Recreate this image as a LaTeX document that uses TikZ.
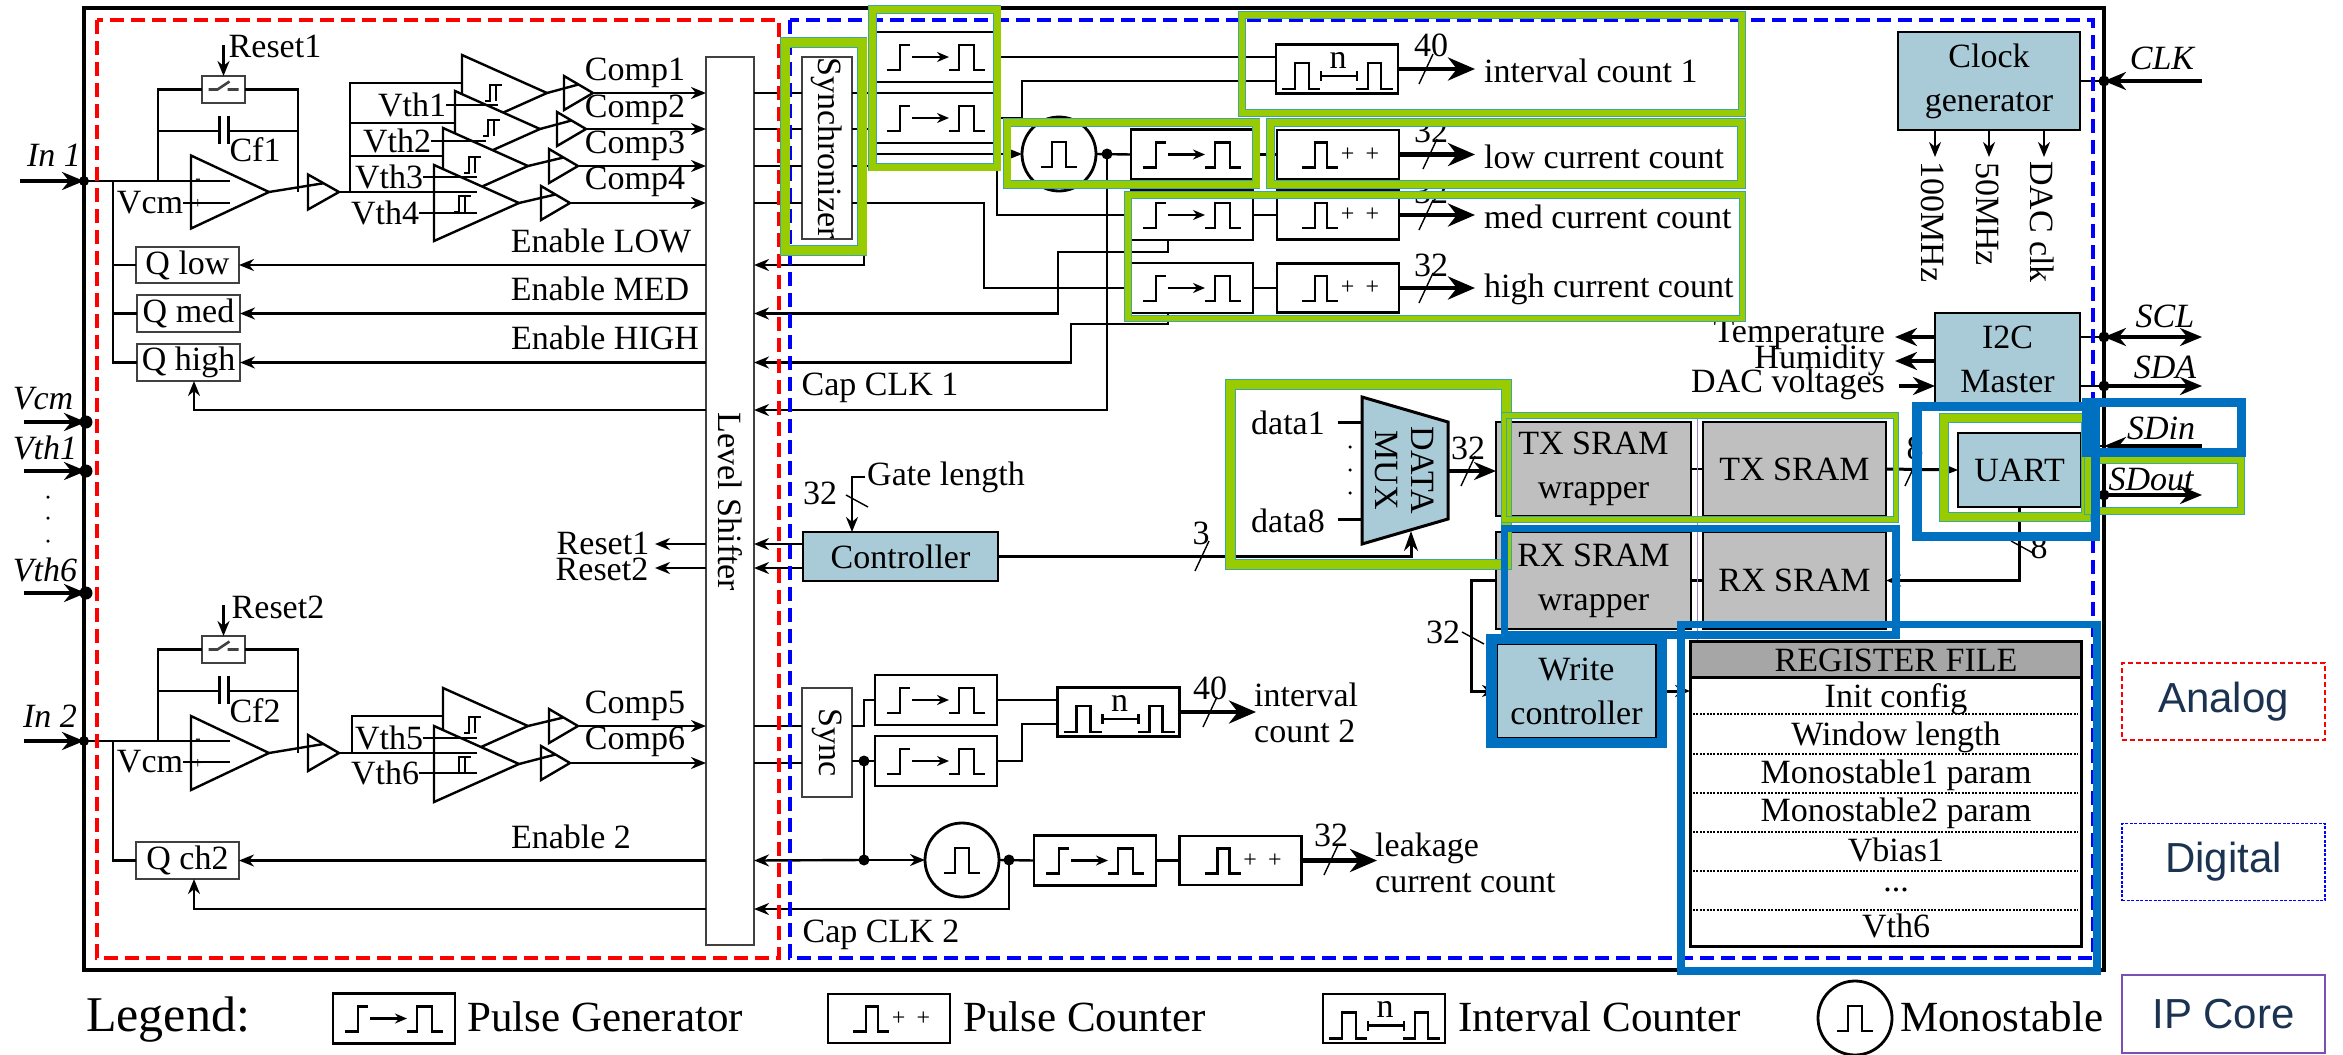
\documentclass[tikz,border=0pt]{standalone}
\usepackage{fontspec}
\setmainfont{Liberation Serif}
\newfontfamily\keyfont{Liberation Sans}
\usetikzlibrary{arrows.meta,calc,positioning,shapes.geometric}
\definecolor{ipblue}{HTML}{A9CBD8}
\definecolor{ramgrey}{HTML}{BFBFBF}
\definecolor{hdrgrey}{HTML}{A6A6A6}
\definecolor{framegreen}{HTML}{99CC00}
\definecolor{frameedge}{HTML}{3AA6A6}
\definecolor{frameblue}{HTML}{0070C0}
\definecolor{keynavy}{HTML}{1B3350}
\definecolor{keypurple}{HTML}{7B4FB5}
\newcommand{\glyphpulse}{(-18,13) -| (-7,-12) -| (7,13) -- (18,13)}
\newcommand{\plusplus}{+\hspace{11pt}+}
\tikzset{
	every node/.style={font=\fontsize{34}{44}\selectfont},
	wire/.style={line width=2.4pt},
	sig/.style={wire,-{Stealth[length=15pt,width=12pt]}},
	pin/.style={line width=3.6pt,-{Stealth[length=22pt,width=18pt]}},
	dpin/.style={line width=3.6pt,{Stealth[length=22pt,width=18pt]}-{Stealth[length=22pt,width=18pt]}},
	bus/.style={line width=4.2pt,-{Stealth[length=27pt,width=23pt]}},
	glyph/.style={line width=2.6pt,shift={(path picture bounding box.center)}},
	blk/.style={draw,line width=2.8pt,fill=white,inner sep=0pt,outer sep=0pt,align=center},
	ipblk/.style={blk,fill=ipblue},
	ramblk/.style={blk,fill=ramgrey},
	thinblk/.style={draw=black!75,line width=1.8pt,fill=white,inner sep=0pt,outer sep=0pt},
	pulsegen/.style={blk,minimum width=122pt,minimum height=50pt,path picture={
		\draw[glyph] (-49,13) -| (-36,-12) -- (-26,-12);
		\draw[glyph,-{Stealth[length=12pt,width=10pt]}] (-24,0) -- (13,0);
		\draw[glyph] (13,13) -| (23,-12) -| (38,13) -- (49,13);}},
	pulsecnt/.style={blk,minimum width=122pt,minimum height=49pt,path picture={
		\draw[glyph] (-36,13) -| (-23,-12) -| (-11,13) -- (0,13);}},
	intervalcnt/.style={blk,minimum width=122pt,minimum height=49pt,path picture={
		\draw[glyph] (-55,20) -| (-42,-6) -| (-28,20) -- (-17,20);
		\draw[glyph] (19,20) -| (31,-6) -| (44,20) -- (56,20);
		\draw[glyph] (-16,2) -- (-16,12) (-16,7) -- (20,7) (20,2) -- (20,12);}},
	monostable/.style={blk,circle,minimum size=74pt,path picture={
		\draw[glyph] \glyphpulse;}},
	swbox/.style={thinblk,minimum width=43pt,minimum height=27pt,path picture={
		\draw[glyph] (-15,0) -- (-6,0) -- (6,-8) (4,0) -- (15,0);}},
	amptri/.style={isosceles triangle,isosceles triangle stretches,shape border rotate=0,draw,line width=2.4pt,fill=white,inner sep=0pt,outer sep=0pt,anchor=apex},
	opampsym/.style={amptri,minimum width=73pt,minimum height=78pt},
	compsym/.style={amptri,minimum width=76pt,minimum height=85pt},
	bufsym/.style={amptri,minimum width=34pt,minimum height=29pt},
	jdot/.style={circle,fill=black,inner sep=0pt,minimum size=11pt},
	portdot/.style={circle,fill=black,inner sep=0pt,minimum size=13pt},
	tinydot/.style={circle,fill=black,inner sep=0pt,minimum size=3.5pt},
	signlbl/.style={inner sep=0pt,font=\fontsize{16}{16}\selectfont},
	lbl/.style={inner sep=0pt},
	cnttxt/.style={inner sep=0pt,font=\fontsize{24}{24}\selectfont},
	portlbl/.style={inner sep=0pt,font=\fontsize{34}{44}\itshape},
	tightlbl/.style={inner sep=0pt,align=left,font=\fontsize{34}{36}\selectfont},
	keylbl/.style={inner sep=0pt,anchor=west,font=\fontsize{43}{46}\selectfont},
	keybox/.style={minimum width=203pt,minimum height=77pt,inner sep=0pt,text=keynavy,font=\fontsize{42}{46}\keyfont},
	greenframe/.style={draw=frameedge,line width=0.8pt,double=framegreen,double distance=#1},
	blueframe/.style={draw=frameblue,line width=#1},
	regsep/.style={line width=2pt,dash pattern=on 2pt off 1.4pt},
	hyst/.pic={\draw[line width=2.4pt] (-8,8) -- (-3,8) -- (-3,-8) -- (9,-8) (3,-8) -- (3,8);},
	slashmark/.pic={\draw[line width=1.4pt] (-7,15) -- (7,-15);},
	backslashmark/.pic={\draw[line width=1.4pt] (-11,-6) -- (11,6);}
}
\begin{document}
\begin{tikzpicture}[x=1pt,y=-1pt]
	\useasboundingbox[fill=white] (0,0) rectangle (2343,1055);
	\draw[line width=3.6pt] (84,8) rectangle (2104,970);

	\node[portdot,minimum size=10pt] (pinone) at (84,181) {};
	\node[portdot] (pvcm) at (86,422) {};
	\node[portdot] (pvthone) at (86,471) {};
	\node[portdot] (pvthsix) at (86,593) {};
	\node[portdot,minimum size=10pt] (pintwo) at (84,741) {};
	\coordinate (inonefree) at (20,181);
	\coordinate (vcmfree) at (24,422);
	\coordinate (vthonefree) at (24,471);
	\coordinate (vthsixfree) at (24,593);
	\coordinate (intwofree) at (24,741);
	\draw[pin] (inonefree) -- (pinone.center);
	\draw[pin] (vcmfree) -- (pvcm.center);
	\draw[pin] (vthonefree) -- (pvthone.center);
	\draw[pin] (vthsixfree) -- (pvthsix.center);
	\draw[pin] (intwofree) -- (pintwo.center);
	\node[portlbl] (lbinone) at (54,155) {In 1};
	\node[portlbl] (lbvcm) at (43,399) {Vcm};
	\node[portlbl] (lbvthone) at (45,448) {Vth1};
	\node[portlbl] (lbvthsix) at (45,570) {Vth6};
	\node[portlbl] (lbintwo) at (50,716) {In 2};
	\node[tinydot] (vdota) at (48,497) {};
	\node[tinydot] (vdotb) at (48,518) {};
	\node[tinydot] (vdotc) at (48,541) {};

	\node[thinblk,minimum width=48pt,minimum height=888pt] (lsh) at (730,501) {};
	\node[lbl,rotate=-90] (lshlbl) at (730,502) {Level Shifter};

	\node[opampsym] (opa) at (269,192) {};
	\node[bufsym,minimum height=31pt,minimum width=35pt] (bufa) at (339,192) {};
	\node[swbox] (swa) at (223.5,89.5) {};
	\node[lbl] (lbrsa) at (275,46) {Reset1};
	\node[lbl] (lbcfa) at (255,150) {Cf1};
	\node[lbl] (lbvcma) at (150,203) {Vcm};
	\node[signlbl] (oma) at (198,181) {-};
	\node[signlbl] (opla) at (198,204) {+};
	\coordinate (rsafree) at (223.5,45);
	\coordinate (tapa) at (113,181);
	\coordinate (fba) at (158,181);
	\coordinate (outa) at (298,192);
	\coordinate (cfal) at (219,131);
	\coordinate (cfar) at (228,131);
	\draw[sig] (rsafree) -- (swa.north);
	\draw[wire] (pinone.center) -- (pinone -| opa.left side);
	\draw[wire] (lbvcma.east) -- (lbvcma.east -| opa.left side);
	\draw[wire] (fba) |- (swa.west);
	\draw[wire] (swa.east) -| (outa);
	\draw[wire] (fba |- cfal) -- (cfal);
	\draw[wire] (cfar) -- (outa |- cfar);
	\draw[line width=3pt] ($(cfal)+(0,-15)$) -- ($(cfal)+(0,13)$);
	\draw[line width=3pt] ($(cfar)+(0,-15)$) -- ($(cfar)+(0,13)$);
	\draw[wire] (opa.apex) -- (bufa.left side);

	\node[compsym] (cmpa) at (547,93) {};
	\pic at (493,93) {hyst};
	\node[compsym] (cmpb) at (540,129) {};
	\pic at (491,128) {hyst};
	\node[compsym] (cmpc) at (528,166) {};
	\pic at (472,165) {hyst};
	\node[compsym] (cmpd) at (519,203) {};
	\pic at (462,204) {hyst};
	\coordinate (vbra) at (350,192);
	\coordinate (cmpain) at (462,83);
	\coordinate (cmpbin) at (455,123);
	\coordinate (cmpcin) at (443,156);
	\draw[wire] (bufa.apex) -- (bufa.apex -| cmpd.left side);
	\draw[wire] (vbra) |- (cmpain);
	\draw[wire] (vbra |- cmpbin) -- (cmpbin);
	\draw[wire] (vbra |- cmpcin) -- (cmpcin);
	\node[lbl] (vthlba) at (412,105) {Vth1};
	\node[lbl] (vthlbb) at (397,141) {Vth2};
	\node[lbl] (vthlbc) at (389,177) {Vth3};
	\node[lbl] (vthlbd) at (385,213) {Vth4};
	\draw[wire] (vthlba.east) -- (vthlba.east -| cmpb.left side);
	\draw[wire] (vthlbb.east) -- (vthlbb.east -| cmpc.left side);
	\draw[wire] (vthlbc.east) -- (vthlbc.east -| cmpd.left side);
	\draw[wire] (vthlbd.east) -- (vthlbd.east -| cmpd.left side);
	\node[bufsym] (bufb) at (593,93) {};
	\node[bufsym] (bufc) at (586,129) {};
	\node[bufsym] (bufd) at (578,166) {};
	\node[bufsym] (bufe) at (570,203) {};
	\draw[wire] (cmpa.apex) -- (bufb.left side);
	\draw[wire] (cmpb.apex) -- (bufc.left side);
	\draw[wire] (cmpc.apex) -- (bufd.left side);
	\draw[wire] (cmpd.apex) -- (bufe.left side);
	\draw[sig] (bufb.apex) -- (bufb.apex -| lsh.west);
	\draw[sig] (bufc.apex) -- (bufc.apex -| lsh.west);
	\draw[sig] (bufd.apex) -- (bufd.apex -| lsh.west);
	\draw[sig] (bufe.apex) -- (bufe.apex -| lsh.west);
	\node[lbl] (lbcompa) at (635,73) {Comp1};
	\node[lbl] (lbcompb) at (635,110) {Comp2};
	\node[lbl] (lbcompc) at (635,146) {Comp3};
	\node[lbl] (lbcompd) at (635,182) {Comp4};

	\node[thinblk,minimum width=103pt,minimum height=36pt] (qlow) at (187.5,265) {Q low};
	\node[thinblk,minimum width=103pt,minimum height=37pt] (qmed) at (188.5,313.5) {Q med};
	\node[thinblk,minimum width=103pt,minimum height=37pt] (qhigh) at (188.5,362.5) {Q high};
	\draw[wire] (tapa) |- (qhigh.west);
	\draw[wire] (tapa |- qlow.west) -- (qlow.west);
	\draw[wire] (tapa |- qmed.west) -- (qmed.west);
	\draw[sig] (qlow.east -| lsh.west) -- (qlow.east);
	\draw[sig] (qmed.east -| lsh.west) -- (qmed.east);
	\draw[sig] (qhigh.east -| lsh.west) -- (qhigh.east);
	\coordinate (capa) at (194,410);
	\draw[sig] (capa -| lsh.west) -- (capa) -- (capa |- qhigh.south);
	\node[lbl] (lbenlow) at (601,241) {Enable LOW};
	\node[lbl] (lbenmed) at (600,289) {Enable MED};
	\node[lbl] (lbenhigh) at (605,338) {Enable HIGH};
	\node[lbl] (lbrstone) at (603,543) {Reset1};
	\node[lbl] (lbrsttwo) at (602,569) {Reset2};
	\coordinate (rsta) at (655,544);
	\coordinate (rstb) at (655,568);
	\draw[sig] (rsta -| lsh.west) -- (rsta);
	\draw[sig] (rstb -| lsh.west) -- (rstb);

	\node[opampsym,minimum width=74pt] (opb) at (269,753) {};
	\node[bufsym,minimum height=31pt,minimum width=36pt] (bufk) at (339,753) {};
	\node[swbox] (swb) at (223.5,649.5) {};
	\node[lbl] (lbrsb) at (278,607) {Reset2};
	\node[lbl] (lbcfb) at (255,711) {Cf2};
	\node[lbl] (lbvcmb) at (150,762) {Vcm};
	\node[signlbl] (omb) at (198,741) {-};
	\node[signlbl] (oplb) at (198,764) {+};
	\coordinate (rsbfree) at (223.5,605);
	\coordinate (tapb) at (113,741);
	\coordinate (fbb) at (158,741);
	\coordinate (outb) at (298,753);
	\coordinate (cfbl) at (219,691);
	\coordinate (cfbr) at (228,691);
	\draw[sig] (rsbfree) -- (swb.north);
	\draw[wire] (pintwo.center) -- (pintwo -| opb.left side);
	\draw[wire] (lbvcmb.east) -- (lbvcmb.east -| opb.left side);
	\draw[wire] (fbb) |- (swb.west);
	\draw[wire] (swb.east) -| (outb);
	\draw[wire] (fbb |- cfbl) -- (cfbl);
	\draw[wire] (cfbr) -- (outb |- cfbr);
	\draw[line width=3pt] ($(cfbl)+(0,-15)$) -- ($(cfbl)+(0,13)$);
	\draw[line width=3pt] ($(cfbr)+(0,-15)$) -- ($(cfbr)+(0,13)$);
	\draw[wire] (opb.apex) -- (bufk.left side);

	\node[compsym] (cmpe) at (528,726) {};
	\pic at (472,725) {hyst};
	\node[compsym] (cmpf) at (519,764) {};
	\pic at (462,765) {hyst};
	\coordinate (vbrb) at (352,753);
	\coordinate (cmpein) at (443,716);
	\draw[wire] (bufk.apex) -- (bufk.apex -| cmpf.left side);
	\draw[wire] (vbrb) |- (cmpein);
	\node[lbl] (vthlbe) at (389,738) {Vth5};
	\node[lbl] (vthlbf) at (385,773) {Vth6};
	\draw[wire] (vthlbe.east) -- (vthlbe.east -| cmpf.left side);
	\draw[wire] (vthlbf.east) -- (vthlbf.east -| cmpf.left side);
	\node[bufsym] (bufm) at (578,726) {};
	\node[bufsym] (bufn) at (570,763) {};
	\draw[wire] (cmpe.apex) -- (bufm.left side);
	\draw[wire] (cmpf.apex) -- (bufn.left side);
	\draw[sig] (bufm.apex) -- (bufm.apex -| lsh.west);
	\draw[sig] (bufn.apex) -- (bufn.apex -| lsh.west);
	\node[lbl] (lbcompe) at (635,706) {Comp5};
	\node[lbl] (lbcompf) at (635,742) {Comp6};

	\node[thinblk,minimum width=103pt,minimum height=37pt] (qchb) at (187.5,860.5) {Q ch2};
	\draw[wire] (tapb) |- (qchb.west);
	\draw[sig] (qchb.east -| lsh.west) -- (qchb.east);
	\coordinate (capb) at (194,909);
	\draw[sig] (capb -| lsh.west) -- (capb) -- (capb |- qchb.south);
	\node[lbl] (lbentwo) at (571,837) {Enable 2};

	\node[thinblk,minimum width=50pt,minimum height=182pt] (syn) at (827,148) {};
	\node[lbl,rotate=-90] (synlbl) at (827,148) {Synchronizer};
	\draw[wire] (bufb.apex -| lsh.east) -- (bufb.apex -| syn.west);
	\draw[wire] (bufc.apex -| lsh.east) -- (bufc.apex -| syn.west);
	\draw[wire] (bufd.apex -| lsh.east) -- (bufd.apex -| syn.west);
	\draw[wire] (bufe.apex -| lsh.east) -- (bufe.apex -| syn.west);

	\node[pulsegen] (pgone) at (936,57) {};
	\node[pulsegen] (pgtwo) at (936,118) {};
	\node[intervalcnt] (ivone) at (1337,69) {};
	\node[lbl] (ivonetxt) at ($(ivone.center)+(1,-9)$) {n};
	\node[monostable] (mono) at (1059,154) {};
	\node[jdot] (dmono) at (1107,154) {};
	\node[pulsegen] (pglow) at (1192,154.5) {};
	\node[pulsecnt] (pclow) at (1338,154.5) {};
	\node[cnttxt] (pclowtxt) at ($(pclow.center)+(22,0)$) {\plusplus};
	\node[pulsegen] (pgmed) at (1192,215) {};
	\node[pulsecnt] (pcmed) at (1338,215) {};
	\node[cnttxt] (pcmedtxt) at ($(pcmed.center)+(22,0)$) {\plusplus};
	\node[pulsegen] (pghigh) at (1192,288) {};
	\node[pulsecnt] (pchigh) at (1338,288) {};
	\node[cnttxt] (pchightxt) at ($(pchigh.center)+(22,0)$) {\plusplus};
	\coordinate (busx) at (1475,0);
	\coordinate (syna) at (870,93);
	\coordinate (synb) at (870,129);
	\coordinate (sync) at (870,154);
	\coordinate (medj) at (997,154);
	\coordinate (hibend) at (984,203);
	\coordinate (pgtwobend) at (1022,118);
	\coordinate (ivonein) at (1276,81);
	\draw[wire] (bufb.apex -| syn.east) -- (syna) |- (pgone.west);
	\draw[wire] (bufc.apex -| syn.east) -- (synb) |- (pgtwo.west);
	\draw[wire] (bufd.apex -| syn.east) -- (bufd.apex -| sync) -- (sync);
	\draw[sig] (sync) -- (mono.west);
	\draw[wire] (medj) |- (pgmed.west);
	\draw[wire] (bufe.apex -| syn.east) -- (hibend) |- (pghigh.west);
	\draw[wire] (pgone.east) -- (pgone.east -| ivone.west);
	\draw[wire] (pgtwo.east) -- (pgtwobend) |- (ivonein);
	\draw[wire] (mono.east) -- (pglow.west);
	\draw[wire] (pglow.east) -- (pclow.west);
	\draw[wire] (pgmed.east) -- (pcmed.west);
	\draw[wire] (pghigh.east) -- (pchigh.west);
	\draw[bus] (ivone.east) -- (ivone.east -| busx);
	\draw[bus] (pclow.east) -- (pclow.east -| busx);
	\draw[bus] (pcmed.east) -- (pcmed.east -| busx);
	\draw[bus] (pchigh.east) -- (pchigh.east -| busx);
	\pic at (1426,69) {slashmark};
	\pic at (1430,154) {slashmark};
	\pic at (1426,215) {slashmark};
	\pic at (1426,288) {slashmark};
	\node[lbl] (wdiva) at (1431,45) {40};
	\node[lbl] (wdivb) at (1431,131) {32};
	\node[lbl] (wdivc) at (1431,192) {32};
	\node[lbl] (wdivd) at (1431,265) {32};
	\node[lbl,anchor=west] (lbivone) at (1484,71) {interval count 1};
	\node[lbl,anchor=west] (lblow) at (1484,157) {low current count};
	\node[lbl,anchor=west] (lbmed) at (1484,217) {med current count};
	\node[lbl,anchor=west] (lbhigh) at (1484,289) {high current count};

	\coordinate (enlowtop) at (864,240);
	\coordinate (medtap) at (1168,239);
	\coordinate (medbend) at (1058,252);
	\coordinate (hightap) at (1168,312);
	\coordinate (highbend) at (1071,324);
	\draw[sig] (enlowtop) |- (qlow.east -| lsh.east);
	\draw[sig] (medtap) |- (medbend) |- (qmed.east -| lsh.east);
	\draw[sig] (hightap) |- (highbend) |- (qhigh.east -| lsh.east);
	\draw[sig] (dmono.center) |- (capa -| lsh.east);
	\node[lbl] (lbcapa) at (880,388) {Cap CLK 1};

	\node[ipblk,minimum width=195pt,minimum height=49pt] (ctrl) at (900.5,556.5) {Controller};
	\draw[sig] (ctrl.west |- rsta) -- (rsta -| lsh.east);
	\draw[sig] (ctrl.west |- rstb) -- (rstb -| lsh.east);
	\coordinate (gatefree) at (865,477);
	\coordinate (gatex) at (852,532);
	\draw[sig] (gatefree) -| (gatex);
	\pic at (857,501) {backslashmark};
	\node[lbl,anchor=west] (lbgate) at (867,477) {Gate length};
	\node[lbl] (wdivg) at (820,493) {32};

	\draw[line width=3pt,fill=ipblue] (1362,397) -- (1448,422) -- (1448,519) -- (1362,544) -- cycle;
	\node[lbl,rotate=-90,align=center,font=\fontsize{34}{36}\selectfont] (muxlbl) at (1405,470) {DATA\\MUX};
	\coordinate (muxa) at (1362,422);
	\coordinate (muxh) at (1362,519);
	\coordinate (muxout) at (1448,471);
	\coordinate (muxin) at (1411,531);
	\draw[line width=3pt] (muxa) -- +(-24,0);
	\draw[line width=3pt] (muxh) -- +(-24,0);
	\node[tinydot] (mdota) at (1350,447) {};
	\node[tinydot] (mdotb) at (1350,470) {};
	\node[tinydot] (mdotc) at (1350,493) {};
	\node[lbl] (lbdataa) at (1288,423) {data1};
	\node[lbl] (lbdatah) at (1288,521) {data8};
	\draw[line width=3pt,-{Stealth[length=20pt,width=14pt]}] (ctrl.east) -| (muxin);
	\pic at (1202,556) {slashmark};
	\node[lbl] (wdivs) at (1201,533) {3};

	\node[ramblk,minimum width=195pt,minimum height=94pt] (txw) at (1593.5,469) {TX SRAM\\wrapper};
	\node[ramblk,minimum width=183pt,minimum height=94pt] (txr) at (1794.5,469) {TX SRAM};
	\node[ramblk,minimum width=195pt,minimum height=97pt] (rxw) at (1593.5,580.5) {RX SRAM\\wrapper};
	\node[ramblk,minimum width=183pt,minimum height=97pt] (rxr) at (1794.5,580.5) {RX SRAM};
	\node[ipblk,minimum width=123pt,minimum height=74pt] (uart) at (2019.5,470) {UART};
	\node[ipblk,minimum width=159pt,minimum height=94pt] (wrc) at (1576.5,691) {Write\\controller};
	\draw[pin] (muxout) -- (txw.west |- muxout);
	\pic at (1468,471) {slashmark};
	\node[lbl] (wdivm) at (1468,448) {32};
	\draw[wire] (txw.east) -- (txr.west);
	\draw[wire] (rxw.east) -- (rxr.west);
	\draw[sig,line width=3pt] (txr.east) -- (uart.west);
	\pic at (1912,471) {slashmark};
	\node[lbl] (wdivt) at (1915,448) {8};
	\draw[sig,line width=3pt] (uart.south) |- (rxr.east);
	\pic at (2022,547) {backslashmark};
	\node[lbl] (wdivr) at (2039,547) {8};
	\coordinate (rxbend) at (1471,580.5);
	\draw[sig,line width=3pt] (rxw.west) -- (rxbend) |- (wrc.west);
	\pic at (1473,638) {backslashmark};
	\node[lbl] (wdivw) at (1443,632) {32};

	\node[blk,minimum width=391pt,minimum height=305pt,line width=3pt] (regfile) at (1885.5,793.5) {};
	\node[blk,minimum width=391pt,minimum height=36pt,line width=3pt,fill=hdrgrey] (reghdr) at (1885.5,659) {};
	\node[lbl] (reglbl) at (1896,660) {REGISTER FILE};
	\node[lbl] (rowa) at (1896,699) {Init config};
	\node[lbl] (rowb) at (1896,737) {Window length};
	\node[lbl] (rowc) at (1896,775) {Monostable1 param};
	\node[lbl] (rowd) at (1896,813) {Monostable2 param};
	\node[lbl] (rowe) at (1896,850) {Vbias1};
	\node[lbl] (rowf) at (1896,890) {...};
	\node[lbl] (rowg) at (1896,926) {Vth6};
	\draw[regsep] (1693,714) -- (2078,714);
	\draw[regsep] (1693,754) -- (2078,754);
	\draw[regsep] (1693,793) -- (2078,793);
	\draw[regsep] (1693,832) -- (2078,832);
	\draw[regsep] (1693,871) -- (2078,871);
	\draw[regsep] (1693,910) -- (2078,910);
	\draw[sig,line width=3pt] (wrc.east) -- (wrc.east -| regfile.west);

	\node[ipblk,minimum width=182pt,minimum height=98pt] (clkgen) at (1989,81) {Clock\\generator};
	\coordinate (clka) at (1935,157);
	\coordinate (clkb) at (1989,157);
	\coordinate (clkc) at (2044,157);
	\draw[sig] (clka |- clkgen.south) -- (clka);
	\draw[sig] (clkb |- clkgen.south) -- (clkb);
	\draw[sig] (clkc |- clkgen.south) -- (clkc);
	\node[lbl,rotate=-90] (lbclka) at (1933,222) {100MHz};
	\node[lbl,rotate=-90] (lbclkb) at (1988,214) {50MHz};
	\node[lbl,rotate=-90] (lbclkc) at (2042,222) {DAC clk};
	\node[jdot] (dclk) at (2104,81) {};
	\coordinate (clkfree) at (2202,81);
	\draw[pin] (clkfree) -- (dclk.center);
	\draw[wire] (dclk.center) -- (clkgen.east);
	\node[portlbl] (lbclk) at (2162,58) {CLK};

	\node[ipblk,minimum width=145pt,minimum height=92pt] (itc) at (2007.5,359) {I2C\\Master};
	\node[jdot] (dscl) at (2104,337) {};
	\node[jdot] (dsda) at (2104,386) {};
	\coordinate (sclfree) at (2202,337);
	\coordinate (sdafree) at (2202,386);
	\draw[dpin] (dscl.center) -- (sclfree);
	\draw[pin] (dsda.center) -- (sdafree);
	\draw[wire] (dscl.center) -- (dscl -| itc.east);
	\draw[wire] (dsda.center) -- (dsda -| itc.east);
	\node[portlbl] (lbscl) at (2165,316) {SCL};
	\node[portlbl] (lbsda) at (2165,367) {SDA};
	\coordinate (tempfree) at (1895,337);
	\coordinate (humfree) at (1895,361);
	\coordinate (dacfree) at (1899,386);
	\draw[pin] (tempfree -| itc.west) -- (tempfree);
	\draw[pin] (humfree -| itc.west) -- (humfree);
	\draw[pin] (dacfree) -- (dacfree -| itc.west);
	\node[lbl,anchor=east] (lbtemp) at (1885,335) {Temperature};
	\node[lbl,anchor=east] (lbhum) at (1885,360) {Humidity};
	\node[lbl,anchor=east] (lbdac) at (1885,384) {DAC voltages};

	\coordinate (sdinfree) at (2202,446);
	\coordinate (sdinj) at (2104,446);
	\node[jdot] (dsdo) at (2104,495) {};
	\coordinate (sdofree) at (2202,495);
	\draw[pin] (sdinfree) -- (sdinj);
	\draw[wire] (sdinj) -- (sdinj -| uart.east);
	\draw[pin] (dsdo -| uart.east) -- (sdofree);
	\node[portlbl] (lbsdin) at (2161,428) {SDin};
	\node[portlbl] (lbsdout) at (2151,479) {SDout};

	\node[thinblk,minimum width=50pt,minimum height=109pt] (syb) at (827,742.5) {};
	\node[lbl,rotate=-90] (syblbl) at (827,742.5) {Sync};
	\draw[wire] (bufm.apex -| lsh.east) -- (bufm.apex -| syb.west);
	\draw[wire] (bufn.apex -| lsh.east) -- (bufn.apex -| syb.west);
	\node[pulsegen] (pgd) at (936,700) {};
	\node[pulsegen] (pge) at (936,761) {};
	\node[intervalcnt] (ivtwo) at (1118.5,712) {};
	\node[lbl] (ivtwotxt) at ($(ivtwo.center)+(1,-9)$) {n};
	\node[monostable] (monob) at (962,860) {};
	\node[pulsegen] (pgf) at (1095,860.5) {};
	\node[pulsecnt] (pcd) at (1240.5,860.5) {};
	\node[cnttxt] (pcdtxt) at ($(pcd.center)+(22,0)$) {\plusplus};
	\node[jdot] (dsb) at (864,761) {};
	\node[jdot] (dsc) at (864,860) {};
	\node[jdot] (dmb) at (1009,860) {};
	\coordinate (sba) at (864,726);
	\coordinate (pgebend) at (1022,761);
	\coordinate (ivtwoin) at (1057,724);
	\coordinate (ivtwoout) at (1256,712);
	\coordinate (leakout) at (1377,860.5);
	\draw[wire] (bufm.apex -| syb.east) -- (sba) |- (pgd.west);
	\draw[wire] (dsb -| syb.east) -- (pge.west);
	\draw[wire] (dsb.center) -- (dsc.center);
	\draw[sig] (dsc.center) -- (qchb.east -| lsh.east);
	\draw[sig] (dsc.center) -- (monob.west);
	\draw[wire] (monob.east) -- (pgf.west);
	\draw[wire] (pgf.east) -- (pcd.west);
	\draw[sig] (dmb.center) |- (capb -| lsh.east);
	\draw[wire] (pgd.east) -- (pgd.east -| ivtwo.west);
	\draw[wire] (pge.east) -- (pgebend) |- (ivtwoin);
	\draw[bus] (ivtwo.east) -- (ivtwoout);
	\draw[bus] (pcd.east) -- (leakout);
	\pic at (1210,712) {slashmark};
	\pic at (1331,860) {slashmark};
	\node[lbl] (wdive) at (1210,688) {40};
	\node[lbl] (wdivf) at (1331,835) {32};
	\node[tightlbl,anchor=west] (lbivtwo) at (1254,713) {interval\\count 2};
	\node[tightlbl,anchor=west] (lbleak) at (1375,863) {leakage\\current count};
	\node[lbl] (lbcapb) at (881,935) {Cap CLK 2};

	\node[lbl,font=\fontsize{50}{54}\selectfont] (lblegend) at (168,1020) {Legend:};
	\node[pulsegen] (lgpg) at (394,1018.5) {};
	\node[keylbl] (lgpgl) at (467,1017) {Pulse Generator};
	\node[pulsecnt] (lgpc) at (889,1018.5) {};
	\node[cnttxt] (lgpctxt) at ($(lgpc.center)+(22,0)$) {\plusplus};
	\node[keylbl] (lgpcl) at (963,1017) {Pulse Counter};
	\node[intervalcnt] (lgiv) at (1384,1018.5) {};
	\node[lbl] (lgivtxt) at ($(lgiv.center)+(1,-9)$) {n};
	\node[keylbl] (lgivl) at (1458,1017) {Interval Counter};
	\node[monostable] (lgm) at (1855,1018) {};
	\node[keylbl] (lgml) at (1900,1017) {Monostable};
	\node[keybox,draw=red,line width=1.4pt,dash pattern=on 5pt off 3pt] (keyan) at (2223.5,701.5) {Analog};
	\node[keybox,draw=blue,line width=1.4pt,dash pattern=on 3pt off 1.5pt] (keydi) at (2223.5,862) {Digital};
	\node[keybox,draw=keypurple,line width=1.4pt,minimum height=78pt] (keyip) at (2223.5,1014) {IP Core};

	\draw[red,line width=3.2pt,dash pattern=on 14pt off 7pt] (97,20) rectangle (779,958);
	\draw[blue,line width=3.2pt,dash pattern=on 14pt off 7pt] (790,20) rectangle (2093,958);
	\draw[keypurple!70,line width=1pt] (1697,413) -- (1697,640);

	\draw[greenframe=9pt] (785,42.5) rectangle (862,250.5);
	\draw[greenframe=7pt] (872.5,9.5) rectangle (997,167);
	\draw[greenframe=6.5pt] (1242,15) rectangle (1742,113);
	\draw[greenframe=7pt] (1007,122.5) rectangle (1256,184.5);
	\draw[greenframe=7pt] (1270.5,122.5) rectangle (1741.5,184.5);
	\draw[greenframe=5.5pt] (1128,195) rectangle (1742.5,318.5);
	\draw[greenframe=9.5pt] (1230.5,384.5) rectangle (1506.5,564.5);
	\draw[greenframe=4.5pt] (1504,415.5) rectangle (1896,519.5);
	\draw[greenframe=8.5pt] (1944,418) rectangle (2086,517);
	\draw[greenframe=5.5pt] (2088,460) rectangle (2241,511);

	\draw[blueframe=9.5pt] (1917,406.5) rectangle (2095.5,536.5);
	\draw[blueframe=9pt] (2086.5,402.5) rectangle (2241,452.5);
	\draw[blueframe=7.5pt] (1504.5,528.5) rectangle (1896,635);
	\draw[blueframe=10.5pt] (1491.5,639) rectangle (1662,743);
	\draw[blueframe=7.5pt] (1681,624.5) rectangle (2097,971);
\end{tikzpicture}
\end{document}
